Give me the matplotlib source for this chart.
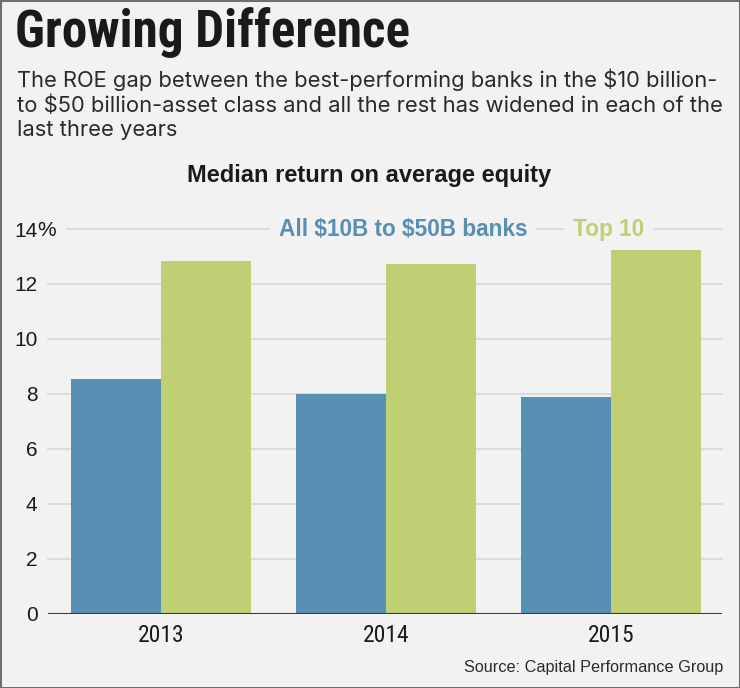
import matplotlib.pyplot as plt
from matplotlib.patches import Rectangle
from matplotlib.transforms import blended_transform_factory

# data
years = ["2013", "2014", "2015"]
all_banks = [8.55, 7.98, 7.90]
top10 = [12.85, 12.71, 13.24]
yticks = [0, 2, 4, 6, 8, 10, 12, 14]

W, H = 740, 688
BG = "#f2f2f3"
BLUE = "#588fb2"
GREEN = "#c0ce74"
COND = ["Roboto Condensed", "DejaVu Sans"]
SANS = ["Liberation Sans", "DejaVu Sans"]
WIDE = ["Inter", "DejaVu Sans"]

def fx(px):
    return px / W

def fy(py):
    return 1 - py / H

fig = plt.figure(figsize=(W / 100, H / 100), dpi=100, facecolor=BG)

# outer border
fig.patches.append(Rectangle((0, 0), 1, 1, transform=fig.transFigure,
                             fill=False, edgecolor="#6e6e6e", lw=2.2))

fig.text(fx(15), fy(47), "Growing Difference", family=COND, weight="heavy",
         fontsize=36.8, color="#1a1a1a", va="baseline", ha="left")

subtitle = ["The ROE gap between the best-performing banks in the \\$10 billion-",
            "to \\$50 billion-asset class and all the rest has widened in each of the",
            "last three years"]
for i, line in enumerate(subtitle):
    fig.text(fx(17), fy(87.3 + 24.4 * i), line, family=WIDE, fontsize=15.8,
             color="#2a2a2a", va="baseline", ha="left")

fig.text(fx(369), fy(182.3), "Median return on average equity", family=SANS,
         weight="bold", fontsize=17, color="#1a1a1a", va="baseline", ha="center")

ax = fig.add_axes([fx(48), fy(613.5), fx(722) - fx(48), fy(229) - fy(613.5)])
ax.set_facecolor(BG)
x = range(len(years))
ax.bar([i - 0.2 for i in x], all_banks, width=0.4, color=BLUE, zorder=3)
ax.bar([i + 0.2 for i in x], top10, width=0.4, color=GREEN, zorder=3)
ax.set_xlim(-0.502, 2.493)
ax.set_ylim(0, 14)

for y in yticks[1:]:
    start = (67 - 48) / 674 if y == 14 else 0
    ax.axhline(y, xmin=start, xmax=1, color="#d9d9dc", lw=1.3, zorder=1, clip_on=False)
ax.axhline(0, color="#3a3a3a", lw=1.5, zorder=4)

for s in ax.spines.values():
    s.set_visible(False)
ax.set_yticks(yticks)
ax.set_yticklabels([str(v) for v in yticks], family=SANS, fontsize=15, color="#1a1a1a")
ax.set_xticks([])
ax.tick_params(axis="both", length=0)
ax.tick_params(axis="y", pad=7.5)

# year labels below the bars
trans = blended_transform_factory(ax.transData, fig.transFigure)
for i, yr in zip(x, years):
    ax.text(i, fy(641.7), yr, transform=trans, family=COND, fontsize=16.9,
            color="#1a1a1a", va="baseline", ha="center")

fig.text(fx(37), fy(229), "%", family=SANS, fontsize=15, color="#1a1a1a",
         va="center_baseline", ha="left")

# inline legend
fig.text(fx(403), fy(236), "All \\$10B to \\$50B banks", family=SANS, weight="bold",
         fontsize=16.3, color=BLUE, va="baseline", ha="center",
         bbox=dict(boxstyle="square,pad=0.4", fc=BG, ec="none"))
fig.text(fx(608.5), fy(236), "Top 10", family=SANS, weight="bold",
         fontsize=16.3, color=GREEN, va="baseline", ha="center",
         bbox=dict(boxstyle="square,pad=0.4", fc=BG, ec="none"))

fig.text(fx(723), fy(672.3), "Source: Capital Performance Group", family=SANS,
         fontsize=11.7, color="#2a2a2a", va="baseline", ha="right")

fig.savefig("out.png", dpi=100, facecolor=BG)
